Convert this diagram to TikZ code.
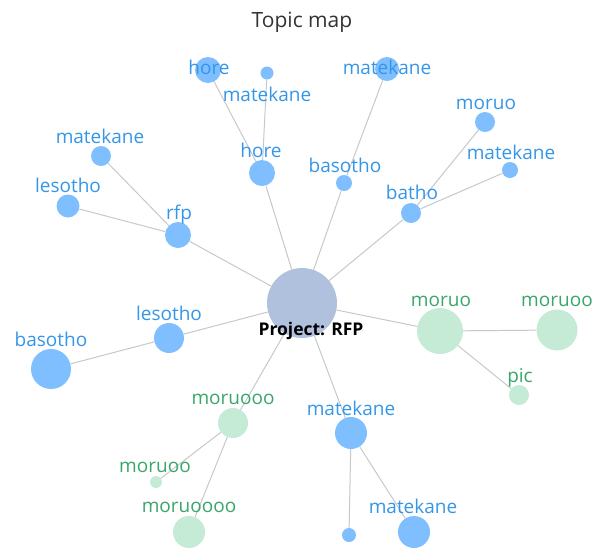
\documentclass[tikz,border=0pt]{standalone}
\usepackage{fontspec}
\setmainfont{Open Sans}
\usetikzlibrary{backgrounds}
\definecolor{hubfill}{RGB}{176,193,222}
\definecolor{bluefill}{RGB}{128,191,255}
\definecolor{bluetext}{RGB}{52,150,232}
\definecolor{greenfill}{RGB}{197,234,214}
\definecolor{greentext}{RGB}{58,166,108}
\definecolor{edgegray}{RGB}{200,200,200}
\definecolor{titlegray}{RGB}{51,51,51}
\tikzset{
  hub/.style={circle,fill=hubfill,inner sep=0pt,minimum size=70pt},
  bnode/.style={circle,fill=bluefill,inner sep=0pt},
  gnode/.style={circle,fill=greenfill,inner sep=0pt},
  btext/.style={anchor=base,inner sep=0pt,text=bluetext,font=\fontsize{19}{19}\selectfont},
  gtext/.style={anchor=base,inner sep=0pt,text=greentext,font=\fontsize{19}{19}\selectfont},
  link/.style={draw=edgegray,line width=1pt}
}
\begin{document}
\begin{tikzpicture}[x=1pt,y=-1pt]
\useasboundingbox (0,0) rectangle (595,550);
% circles
\node[hub] (hub) at (302,303) {};
\node[bnode,minimum size=26pt] (horeA) at (208,70) {};
\node[bnode,minimum size=13pt] (mateA) at (267,73) {};
\node[bnode,minimum size=26pt] (horeB) at (262,173) {};
\node[bnode,minimum size=20pt] (mateB) at (101,156) {};
\node[bnode,minimum size=23pt] (lesoA) at (68,206) {};
\node[bnode,minimum size=26pt] (rfp) at (178,235) {};
\node[bnode,minimum size=24pt] (mateC) at (387,69) {};
\node[bnode,minimum size=20pt] (moruA) at (485,122) {};
\node[bnode,minimum size=16pt] (mateD) at (510,170) {};
\node[bnode,minimum size=16pt] (basoA) at (344,183) {};
\node[bnode,minimum size=20pt] (batho) at (411,213) {};
\node[bnode,minimum size=30pt] (lesoB) at (169,338) {};
\node[bnode,minimum size=40pt] (basoB) at (51,369) {};
\node[gnode,minimum size=30pt] (moruB) at (233,423) {};
\node[gnode,minimum size=12pt] (moruC) at (156,482) {};
\node[gnode,minimum size=32pt] (moruD) at (189,532) {};
\node[gnode,minimum size=46pt] (moruE) at (440,331) {};
\node[gnode,minimum size=41pt] (moruF) at (557,330) {};
\node[gnode,minimum size=20pt] (pic) at (519,395) {};
\node[bnode,minimum size=32pt] (mateE) at (351,433) {};
\node[bnode,minimum size=14pt] (dot) at (349,535) {};
\node[bnode,minimum size=32pt] (mateF) at (414,532) {};
% links
\begin{scope}[on background layer]
\foreach \a/\b in {hub/horeB,hub/basoA,hub/batho,hub/rfp,hub/lesoB,hub/moruB,hub/mateE,hub/moruE,
  horeB/horeA,horeB/mateA,basoA/mateC,batho/moruA,batho/mateD,rfp/mateB,rfp/lesoA,lesoB/basoB,
  moruB/moruC,moruB/moruD,moruE/moruF,moruE/pic,mateE/dot,mateE/mateF}
  \draw[link] (\a) -- (\b);
\end{scope}
% labels
\node[btext] (thoreA) at (209,74) {hore};
\node[btext] (tmateA) at (267,101) {matekane};
\node[btext] (thoreB) at (261,157) {hore};
\node[btext] (tmateB) at (100,143) {matekane};
\node[btext] (tlesoA) at (68,192) {lesotho};
\node[btext] (trfp) at (179,219) {rfp};
\node[btext] (tmateC) at (387,74) {matekane};
\node[btext] (tmoruA) at (486,109) {moruo};
\node[btext] (tmateD) at (511,159) {matekane};
\node[btext] (tbasoA) at (345,172) {basotho};
\node[btext] (tbatho) at (412,199) {batho};
\node[btext] (tlesoB) at (169,320) {lesotho};
\node[btext] (tbasoB) at (51,346) {basotho};
\node[gtext] (tmoruB) at (233,404) {moruooo};
\node[gtext] (tmoruC) at (155,472) {moruoo};
\node[gtext] (tmoruD) at (189,512) {moruoooo};
\node[gtext] (tmoruE) at (441,306) {moruo};
\node[gtext] (tmoruF) at (557,306) {moruoo};
\node[gtext] (tpic) at (520,382) {pic};
\node[btext] (tmateE) at (351,415) {matekane};
\node[btext] (tmateF) at (413,513) {matekane};
\node[anchor=base,inner sep=0pt,font=\fontsize{17.5}{17.5}\selectfont\bfseries] (thub) at (311,335) {Project: RFP};
\node[anchor=base,inner sep=0pt,text=titlegray,font=\fontsize{21}{21}\selectfont] (title) at (302,27) {Topic map};
\end{tikzpicture}
\end{document}
